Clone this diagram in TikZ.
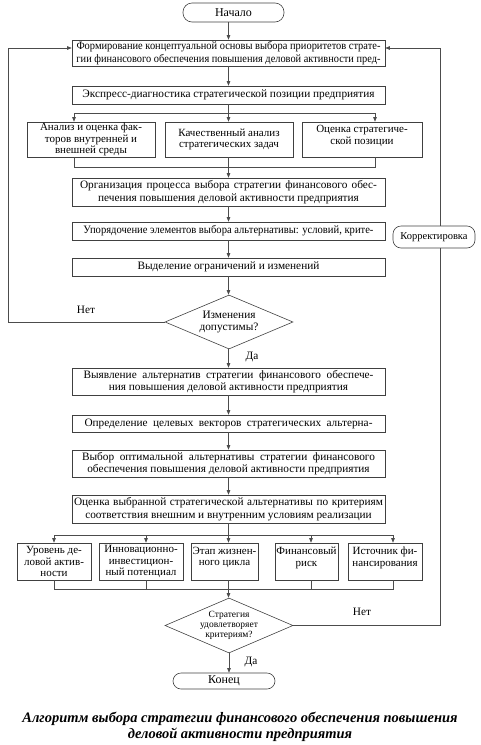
\documentclass[tikz,border=0pt]{standalone}
\usepackage{graphicx}
\usepackage{fontspec}
\setmainfont{Liberation Serif}
\usetikzlibrary{shapes.geometric,arrows.meta}
\newcommand\fmain{\fontsize{11.3}{12.5}\selectfont}
\newcommand\fthree{\fontsize{11}{11.3}\selectfont}
\newcommand\fsmall{\fontsize{11}{11.5}\selectfont}
\newcommand\ftiny{\fontsize{9.5}{10}\selectfont}
\newcommand\jl[2]{\sbox0{#2}\ifdim\wd0>#1pt\resizebox{#1pt}{\height}{#2}\else\makebox[#1pt][s]{#2}\fi}
\tikzset{
  ln/.style={draw=black!70, line width=0.6pt},
  arr/.style={ln, -{Triangle[length=4.5pt,width=3.5pt]}},
  box/.style={draw=black!75, line width=0.6pt, inner sep=0pt, align=center, font=\fmain},
  tbox/.style={box, font=\fthree},
  sbox/.style={box, font=\fsmall},
  term/.style={draw=black!75, line width=0.6pt, inner sep=0pt, rounded corners=9pt, font=\fmain},
  dia/.style={draw=black!75, line width=0.6pt, shape=diamond, inner sep=0pt, aspect=2.37, align=center},
  lbl/.style={font=\fmain, inner sep=0pt}
}
\begin{document}
\begin{tikzpicture}[x=1pt,y=-1pt]
\useasboundingbox (0,0) rectangle (480,745);
% nodes
\node[term, font=\fontsize{12}{13}\selectfont, minimum width=101pt, minimum height=19pt] (start) at (233.5,12.5) {Начало};
\node[box, minimum width=313pt, minimum height=26pt] (b1) at (228.5,53)
  {\jl{304}{Формирование концептуальной основы выбора приоритетов страте-}\\
   \jl{304}{гии финансового обеспечения повышения деловой активности пред-}};
\node[box, minimum width=313pt, minimum height=18pt] (b2) at (228.5,95)
  {Экспресс-диагностика стратегической позиции предприятия};
\node[tbox, minimum width=128pt, minimum height=35pt] (b3a) at (91,139.5)
  {Анализ и оценка фак-\\торов внутренней и\\внешней среды};
\node[tbox, minimum width=128pt, minimum height=35pt] (b3b) at (229,139.5)
  {Качественный анализ\\стратегических задач};
\node[tbox, minimum width=120pt, minimum height=35pt, text depth=9pt] (b3c) at (362,139.5)
  {Оценка стратегиче-\\ской позиции};
\node[box, minimum width=313pt, minimum height=28pt] (b4) at (228.5,192)
  {\jl{297}{Организация процесса выбора стратегии финансового обес-}\\
   печения повышения деловой активности предприятия};
\node[box, minimum width=313pt, minimum height=18pt] (b5) at (228.5,231)
  {\jl{290}{Упорядочение элементов выбора альтернативы: условий, крите-}};
\node[box, minimum width=313pt, minimum height=18pt] (b6) at (228.5,267)
  {Выделение ограничений и изменений};
\node[dia, font=\fmain, minimum width=128pt, minimum height=54pt] (d1) at (229,322)
  {Изменения\\допустимы?};
\node[box, minimum width=313pt, minimum height=27pt] (b7) at (228.5,381.5)
  {\jl{290}{Выявление альтернатив стратегии финансового обеспече-}\\
   ния повышения деловой активности предприятия};
\node[box, minimum width=313pt, minimum height=17pt] (b8) at (228.5,423.5)
  {\jl{288}{Определение целевых векторов стратегических альтерна-}};
\node[box, minimum width=313pt, minimum height=27pt] (b9) at (228.5,463.5)
  {\jl{293}{Выбор оптимальной альтернативы стратегии финансового}\\
   обеспечения повышения деловой активности предприятия};
\node[box, minimum width=313pt, minimum height=28pt] (b10) at (228.5,509)
  {\jl{309}{Оценка выбранной стратегической альтернативы по критериям}\\
   соответствия внешним и внутренним условиям реализации};
\node[sbox, minimum width=74pt, minimum height=37pt] (ra) at (54,561.5)
  {Уровень де-\\ловой актив-\\ности};
\node[sbox, minimum width=84pt, minimum height=37pt] (rb) at (141,561.5)
  {Инновационно-\\инвестицион-\\ный потенциал};
\node[sbox, minimum width=67pt, minimum height=37pt, text depth=10pt] (rc) at (224.5,561.5)
  {Этап жизнен-\\ного цикла};
\node[sbox, minimum width=63pt, minimum height=37pt, text depth=10pt] (rd) at (306.5,561.5)
  {Финансовый\\риск};
\node[sbox, minimum width=74pt, minimum height=37pt, text depth=10pt] (re) at (385,561.5)
  {Источник фи-\\нансирования};
\node[dia, font=\ftiny, minimum width=128pt, minimum height=55pt] (d2) at (229,625.5)
  {Стратегия\\удовлетворяет\\критериям?};
\node[term, font=\fontsize{12}{13}\selectfont, minimum width=102pt, minimum height=16pt, rounded corners=8pt] (end) at (224,681) {Конец};
\node[term, font=\fontsize{10.5}{12}\selectfont, minimum width=82pt, minimum height=22pt, rounded corners=8pt] (korr) at (434,237) {Корректировка};
% labels
\node[lbl] (no1) at (86,310) {Нет};
\node[lbl] (yes1) at (252,357) {Да};
\node[lbl] (no2) at (362,612) {Нет};
\node[lbl] (yes2) at (251,662) {Да};
\node[align=center, inner sep=0pt, font=\fontsize{14.5}{16.5}\selectfont\bfseries\itshape] (cap) at (240,727)
  {Алгоритм выбора стратегии финансового обеспечения повышения\\деловой активности предприятия};
% coordinates
\coordinate (s1) at (228.5,113);
\coordinate (s1L) at (74,113);
\coordinate (s1R) at (375,113);
\coordinate (j1) at (228.5,167);
\coordinate (j1L) at (74,167);
\coordinate (j1R) at (375,167);
\coordinate (s2) at (228.5,535);
\coordinate (s2a) at (54,535);
\coordinate (s2b) at (146,535);
\coordinate (s2d) at (311,535);
\coordinate (s2e) at (393,535);
\coordinate (j2) at (228.5,589);
\coordinate (j2a) at (54,589);
\coordinate (j2b) at (146,589);
\coordinate (j2d) at (311,589);
\coordinate (j2e) at (393,589);
\coordinate (lpB) at (8,322);
\coordinate (lpT) at (8,48);
\coordinate (rpB) at (440,625.5);
\coordinate (rpT) at (440,48);
% connectors
\draw[arr] (start.south -| b1.north) -- (b1.north);
\draw[arr] (b1.south) -- (b2.north);
\draw[ln] (b2.south) -- (s1);
\draw[ln] (s1L) -- (s1R);
\draw[arr] (s1L) -- (s1L |- b3a.north);
\draw[arr] (s1) -- (s1 |- b3b.north);
\draw[arr] (s1R) -- (s1R |- b3c.north);
\draw[ln] (j1L |- b3a.south) -- (j1L) -- (j1R) -- (j1R |- b3c.south);
\draw[arr] (b3b.south -| b4.north) -- (b4.north);
\draw[arr] (b4.south) -- (b5.north);
\draw[arr] (b5.south) -- (b6.north);
\draw[arr] (b6.south) -- (b6.south |- d1.north);
\draw[arr] (d1.south -| b7.north) -- (b7.north);
\draw[arr] (b7.south) -- (b8.north);
\draw[arr] (b8.south) -- (b9.north);
\draw[arr] (b9.south) -- (b10.north);
\draw[ln] (b10.south) -- (s2);
\draw[ln] (s2a) -- (s2e);
\draw[arr] (s2a) -- (s2a |- ra.north);
\draw[arr] (s2b) -- (s2b |- rb.north);
\draw[arr] (s2) -- (s2 |- rc.north);
\draw[arr] (s2d) -- (s2d |- rd.north);
\draw[arr] (s2e) -- (s2e |- re.north);
\draw[ln] (j2a |- ra.south) -- (j2a) -- (j2e) -- (j2e |- re.south);
\draw[ln] (j2b |- rb.south) -- (j2b);
\draw[ln] (j2d |- rd.south) -- (j2d);
\draw[arr] (j2 |- rc.south) -- (j2 |- d2.north);
\draw[arr] (d2.south) -- (d2.south |- end.north);
\draw[ln] (d1.west) -- (lpB) -- (lpT);
\draw[arr] (lpT) -- (lpT -| b1.west);
\draw[ln] (d2.east) -- (rpB) -- (rpB |- korr.south);
\draw[ln] (rpT |- korr.north) -- (rpT);
\draw[arr] (rpT) -- (rpT -| b1.east);
\end{tikzpicture}
\end{document}
